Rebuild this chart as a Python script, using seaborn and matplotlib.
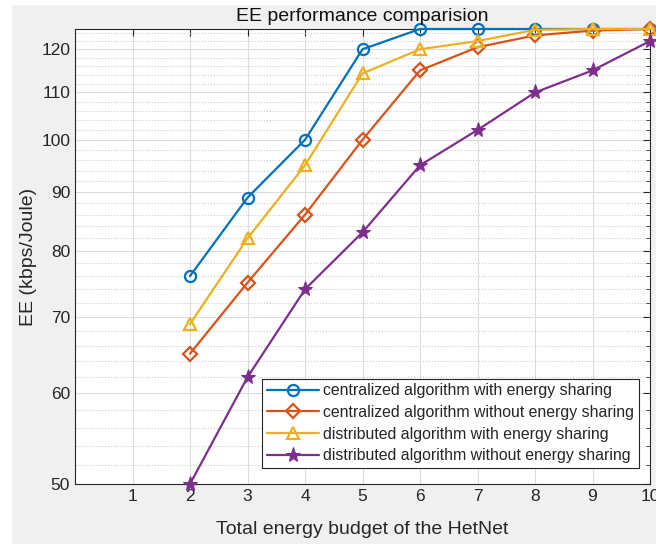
import matplotlib
matplotlib.use("Agg")
import matplotlib.pyplot as plt
import seaborn as sns
from matplotlib.patches import Rectangle
from matplotlib.ticker import FixedLocator, FixedFormatter, NullFormatter

# datos
budget = [2, 3, 4, 5, 6, 7, 8, 9, 10]
cent_share = [76, 89, 100, 120, 125, 125, 125, 125, 125]
cent_noshare = [65, 75, 86, 100, 115, 120.5, 123.4, 124.6, 125]
dist_share = [69, 82, 95, 114.3, 120, 122, 124.8, 125, 125]
dist_noshare = [50, 62, 74, 83, 95, 102, 110, 115, 122]

labels = ['centralized algorithm with energy sharing',
          'centralized algorithm without energy sharing',
          'distributed algorithm with energy sharing',
          'distributed algorithm without energy sharing']
colors = ['#0072BD', '#D95319', '#EDB120', '#7E2F8E']
markers = ['o', 'D', '^', '*']
y_major = [50, 60, 70, 80, 90, 100, 110, 120]

sns.set_style("white")
plt.rcParams['font.family'] = ['Liberation Sans', 'DejaVu Sans']

fig = plt.figure(figsize=(6.56, 5.44), dpi=100)
fig.patch.set_facecolor('#f0f0f0')
fig.add_artist(Rectangle((0, 0), 11 / 656, 1, transform=fig.transFigure,
                         color='white', zorder=-1))
fig.add_artist(Rectangle((0, 1 - 4 / 544), 1, 4 / 544, transform=fig.transFigure,
                         color='white', zorder=-1))
ax = fig.add_axes([75 / 656, 1 - 484 / 544, 575 / 656, 455 / 544])

series = [cent_share, cent_noshare, dist_share, dist_noshare]
for vals, lab, c, m in zip(series, labels, colors, markers):
    if m == '*':
        sns.lineplot(x=budget, y=vals, ax=ax, color=c, label=lab, marker=m,
                     markersize=11, markerfacecolor=c, markeredgecolor=c,
                     linewidth=1.6, clip_on=False, zorder=3)
    else:
        sns.lineplot(x=budget, y=vals, ax=ax, color=c, label=lab, marker=m,
                     markersize=8 if m != 'D' else 7, markerfacecolor='none',
                     markeredgecolor=c, markeredgewidth=1.6,
                     linewidth=1.6, clip_on=False, zorder=3)

ax.set_yscale('log')
ax.set_xlim(0, 10)
ax.set_ylim(50, 125)
ax.set_xticks(range(1, 11))
ax.yaxis.set_major_locator(FixedLocator(y_major))
ax.yaxis.set_minor_locator(FixedLocator([v for v in range(52, 125, 2) if v % 10 != 0]))
ax.yaxis.set_major_formatter(FixedFormatter([str(v) for v in y_major]))
ax.yaxis.set_minor_formatter(NullFormatter())

ax.grid(True, which='major', color='#dcdcdc', linewidth=0.8)
ax.grid(True, which='minor', axis='y', color='#cccccc', linestyle=':', linewidth=0.8)
ax.set_facecolor('white')
for s in ax.spines.values():
    s.set_color('#262626')
    s.set_linewidth(0.8)
ax.tick_params(which='both', direction='in', top=True, right=True,
               color='#262626', labelsize=12.5, labelcolor='#262626')
ax.tick_params(which='major', length=5)
ax.tick_params(which='minor', length=3)

ax.set_title('EE performance comparision', fontsize=14, color='#111111', pad=6)
ax.set_xlabel('Total energy budget of the HetNet', fontsize=14, color='#262626',
              labelpad=12)
ax.set_ylabel('EE (kbps/Joule)', fontsize=14, color='#262626', labelpad=3)

leg = ax.legend(loc='lower right', fontsize=11.4, handlelength=3.3, frameon=True,
                fancybox=False, edgecolor='#262626', framealpha=1,
                borderpad=0.3, labelspacing=0.42, handletextpad=0.25,
                borderaxespad=0, bbox_to_anchor=(0.98, 0.035))
leg.get_frame().set_linewidth(0.8)

fig.savefig('out.png', dpi=100, facecolor=fig.get_facecolor())
